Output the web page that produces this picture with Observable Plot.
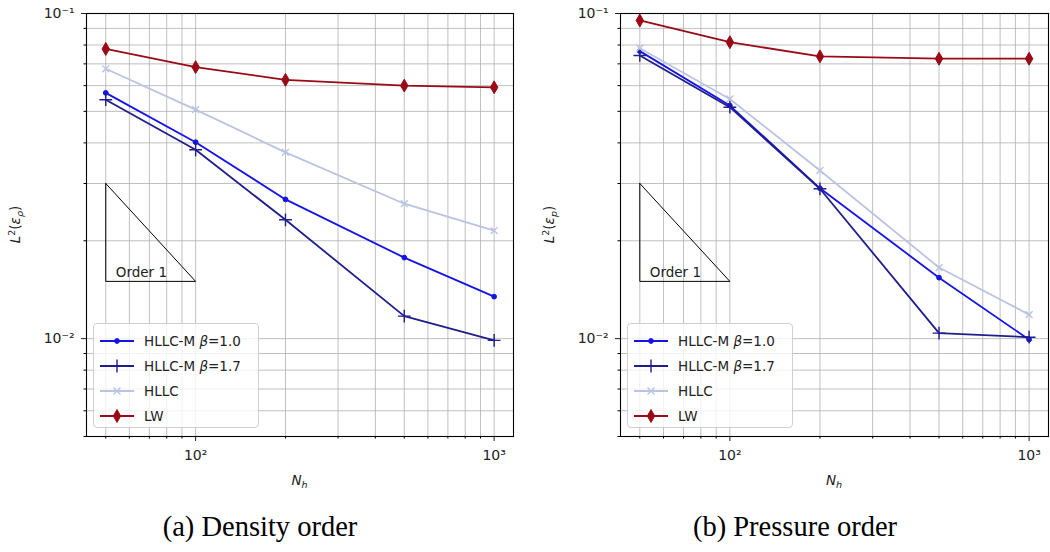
<!DOCTYPE html>
<html>
<head>
<meta charset="utf-8">
<script src="https://cdn.jsdelivr.net/npm/d3@7"></script>
<script src="https://cdn.jsdelivr.net/npm/@observablehq/plot@0.6"></script>
<style>
  html, body { margin: 0; padding: 0; background: #fff; }
  #wrap { position: relative; width: 1050px; height: 552px; }
  .panel { position: absolute; top: 0; width: 525px; height: 490px; }
  .caption { position: absolute; top: 510px; width: 340px; text-align: center; line-height: 34px;
             font-family: "Liberation Serif", "DejaVu Serif", serif; font-size: 28.5px; color: #000; }
  .legend { position: absolute; background: rgba(255,255,255,0.8); border: 1px solid #d0d0d0;
            border-radius: 4px; font-family: "DejaVu Sans", sans-serif; font-size: 13.5px; color: #222;
            padding: 4px 8px 4px 6px; box-sizing: border-box; }
  .legend .row { display: flex; align-items: center; height: 25px; }
  .legend svg { margin-right: 10px; }
</style>
</head>
<body>
<div id="wrap"></div>
<script>
// ---- data ----
const Nh = [50, 100, 200, 500, 1000];

// (a) Density order
const densHLLCM10 = [0.0570, 0.0402, 0.0268, 0.01775, 0.01346];
const densHLLCM17 = [0.0543, 0.0381, 0.0232, 0.01173, 0.00988];
const densHLLC    = [0.0676, 0.0506, 0.0374, 0.0260, 0.0215];
const densLW      = [0.0778, 0.0684, 0.0625, 0.0600, 0.0593];

// (b) Pressure order
const presHLLCM10 = [0.0766, 0.0521, 0.0290, 0.0154, 0.00993];
const presHLLCM17 = [0.0743, 0.0515, 0.0289, 0.0104, 0.0101];
const presHLLC    = [0.0782, 0.0546, 0.0329, 0.01654, 0.01185];
const presLW      = [0.0952, 0.0816, 0.0738, 0.0726, 0.0726];

const seriesNames = ["HLLC-M β=1.0", "HLLC-M β=1.7", "HLLC", "LW"];
const seriesColors = ["#1414e6", "#1e1e8c", "#bac3e2", "#9a0a16"];

// order-1 reference triangle (x, y)
const triX = [50, 50, 100, 50];
const triY = [0.03, 0.015, 0.015, 0.03];
const triLabel = "Order 1";

const xMajor = [100, 1000];
const xMajorLabels = ["10²", "10³"];
const xMinor = [50, 60, 70, 80, 90, 200, 300, 400, 500, 600, 700, 800, 900];
const yMajor = [0.01, 0.1];
const yMajorLabels = ["10⁻²", "10⁻¹"];
const yMinor = [0.005, 0.006, 0.007, 0.008, 0.009, 0.02, 0.03, 0.04, 0.05, 0.06, 0.07, 0.08, 0.09];

const xDomain = [43.1, 1161];
const yDomain = [0.005, 0.1];

const styles = [
  {symbol: "circle", r: 2.4, fill: true, sw: 1.8},
  {symbol: "plus", r: 4.2, fill: false, sw: 1.8},
  {symbol: "times", r: 3.2, fill: false, sw: 1.8},
  {symbol: "diamond", r: 3.9, fill: true, sw: 1.8}
];

function panel(left, arrays, ySub, caption, marginLeft, marginRight, capCenter) {
  const data = [];
  arrays.forEach((arr, si) => arr.forEach((v, i) => data.push({s: si, x: Nh[i], y: v})));
  const tri = triX.map((x, i) => ({x, y: triY[i]}));

  const marks = [
    Plot.gridX([...xMajor, ...xMinor], {stroke: "#b0b0b0", strokeOpacity: 1, strokeWidth: 0.8}),
    Plot.gridY([...yMajor, ...yMinor], {stroke: "#b0b0b0", strokeOpacity: 1, strokeWidth: 0.8}),
    Plot.axisX({ticks: xMajor, tickFormat: () => "", tickSize: 5, label: null, color: "#222"}),
    Plot.axisX({ticks: xMinor, tickFormat: () => "", tickSize: 2.5, label: null}),
    Plot.axisY({ticks: yMajor, tickFormat: () => "", tickSize: 5, label: null, color: "#222"}),
    Plot.axisY({ticks: yMinor, tickFormat: () => "", tickSize: 2.5, label: null}),
    Plot.text(xMajor, {x: d => d, text: (d, i) => xMajorLabels[i], frameAnchor: "bottom", dy: 19, lineAnchor: "middle",
      fontSize: 14, fontFamily: "DejaVu Sans", fill: "#222"}),
    Plot.text(yMajor, {y: d => d, text: (d, i) => yMajorLabels[i], frameAnchor: "left", dx: -12, textAnchor: "end", lineAnchor: "middle",
      fontSize: 14, fontFamily: "DejaVu Sans", fill: "#222"}),
    Plot.line(tri, {x: "x", y: "y", stroke: "black", strokeWidth: 1}),
    Plot.text([{x: triX[1], y: triY[1], t: triLabel}], {x: "x", y: "y", text: "t", textAnchor: "start", dx: 10, dy: -9, fontSize: 13.5, fontFamily: "DejaVu Sans", fill: "#222"})
  ];
  seriesNames.forEach((name, si) => {
    const d = data.filter(p => p.s === si);
    const st = styles[si];
    marks.push(Plot.line(d, {x: "x", y: "y", stroke: seriesColors[si], strokeWidth: st.sw}));
    marks.push(Plot.dot(d, {x: "x", y: "y", symbol: st.symbol, r: st.r,
      fill: st.fill ? seriesColors[si] : "none", stroke: seriesColors[si], strokeWidth: st.fill ? 1 : 1.4}));
  });
  marks.push(Plot.frame({stroke: "black", strokeWidth: 1.1}));

  const chart = Plot.plot({
    width: 525, height: 490,
    marginLeft, marginRight, marginTop: 13, marginBottom: 54,
    x: {type: "log", domain: xDomain},
    y: {type: "log", domain: yDomain},
    style: {fontFamily: "DejaVu Sans", fontSize: "13px", background: "white"},
    marks
  });

  const svg = d3.select(chart);
  const fx0 = marginLeft, fx1 = 525 - marginRight, fy0 = 13, fy1 = 490 - 54;
  const yl = svg.append("text")
    .attr("transform", `translate(${fx0 - 66},${(fy0 + fy1) / 2}) rotate(-90)`)
    .attr("text-anchor", "middle").attr("font-family", "DejaVu Sans").attr("font-size", 13.5).attr("fill", "#222");
  yl.append("tspan").attr("font-style", "italic").text("L");
  yl.append("tspan").attr("font-size", 9.5).attr("dy", -5).text("2");
  yl.append("tspan").attr("dy", 5).text("(");
  yl.append("tspan").attr("font-style", "italic").text("ε");
  yl.append("tspan").attr("font-style", "italic").attr("font-size", 9.5).attr("dy", 3).text(ySub);
  yl.append("tspan").attr("dy", -3).text(")");

  const xl = svg.append("text")
    .attr("x", (fx0 + fx1) / 2).attr("y", fy1 + 49)
    .attr("text-anchor", "middle").attr("font-family", "DejaVu Sans").attr("font-size", 13.5).attr("fill", "#222");
  xl.append("tspan").attr("font-style", "italic").text("N");
  xl.append("tspan").attr("font-style", "italic").attr("font-size", 9.5).attr("dy", 3).text("h");

  const div = document.createElement("div");
  div.className = "panel";
  div.style.left = left + "px";
  div.appendChild(chart);

  const lg = document.createElement("div");
  lg.className = "legend";
  lg.style.left = (fx0 + 7) + "px";
  lg.style.top = "323px";
  lg.style.width = "166px";
  lg.style.height = "105px";
  seriesNames.forEach((name, si) => {
    const row = document.createElement("div");
    row.className = "row";
    const sv = d3.create("svg").attr("width", 34).attr("height", 14);
    sv.append("line").attr("x1", 0).attr("x2", 34).attr("y1", 7).attr("y2", 7)
      .attr("stroke", seriesColors[si]).attr("stroke-width", styles[si].sw);
    const st = styles[si];
    const symMap = {circle: d3.symbolCircle, plus: d3.symbolPlus, times: d3.symbolTimes, diamond: d3.symbolDiamond};
    const sym = d3.symbol(symMap[st.symbol], Math.PI * st.r * st.r);
    sv.append("path").attr("transform", "translate(17,7)").attr("d", sym())
      .attr("fill", st.fill ? seriesColors[si] : "none").attr("stroke", seriesColors[si]).attr("stroke-width", st.fill ? 1 : 1.4);
    row.appendChild(sv.node());
    const span = document.createElement("span");
    if (name.includes("β")) {
      const parts = name.split("β");
      span.append(parts[0]);
      const it = document.createElement("i"); it.textContent = "β"; span.append(it);
      span.append(parts[1]);
    } else span.textContent = name;
    row.appendChild(span);
    lg.appendChild(row);
  });
  div.appendChild(lg);

  const cap = document.createElement("div");
  cap.className = "caption";
  cap.textContent = caption;
  cap.style.left = (capCenter - left - 170) + "px";
  div.appendChild(cap);

  document.getElementById("wrap").appendChild(div);
}

panel(0, [densHLLCM10, densHLLCM17, densHLLC, densLW], "ρ", "(a) Density order", 86, 12, 260);
panel(525, [presHLLCM10, presHLLCM17, presHLLC, presLW], "p", "(b) Pressure order", 95, 2, 795);
</script>
</body>
</html>
